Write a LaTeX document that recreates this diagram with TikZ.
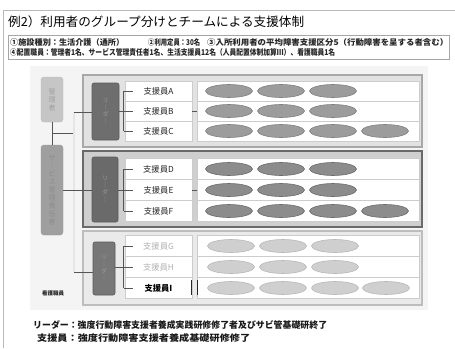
\documentclass[tikz,border=0pt]{standalone}
\usepackage{fontspec}
\setmainfont{Noto Sans CJK JP}
\usetikzlibrary{shapes.geometric}
\definecolor{frA}{HTML}{A8A8A8}
\definecolor{frB}{HTML}{6A6A6A}
\definecolor{frC}{HTML}{BDBDBD}
\definecolor{bgA}{HTML}{E2E2E2}
\definecolor{bgB}{HTML}{CFCFCF}
\definecolor{bgC}{HTML}{EAEAEA}
\definecolor{elA}{HTML}{9C9C9C}
\definecolor{elAd}{HTML}{808080}
\definecolor{elB}{HTML}{8C8C8C}
\definecolor{elBd}{HTML}{6C6C6C}
\definecolor{elC}{HTML}{CFCFCF}
\definecolor{elCd}{HTML}{B8B8B8}
\definecolor{lead}{HTML}{6E6E6E}
\definecolor{leadB}{HTML}{6A6A6A}
\definecolor{leadC}{HTML}{777777}
\definecolor{leadd}{HTML}{5A5A5A}
\definecolor{conn}{HTML}{555555}
\begin{document}
\begin{tikzpicture}[x=1pt,y=-1pt,
  lblcell/.style={draw=gray!40, fill=white, minimum width=67pt, minimum height=#1, inner sep=0pt,
    font=\fontsize{8.3}{9}\selectfont, text=black!85},
  elcell/.style={draw=gray!40, fill=white, minimum width=222pt, minimum height=#1, inner sep=0pt},
  elA/.style={ellipse, minimum width=47pt, minimum height=13pt, inner sep=0pt, fill=elA, draw=elAd, line width=0.6pt},
  elB/.style={ellipse, minimum width=47pt, minimum height=13pt, inner sep=0pt, fill=elB, draw=elBd, line width=0.6pt},
  elC/.style={ellipse, minimum width=47pt, minimum height=13pt, inner sep=0pt, fill=elC, draw=elCd, line width=0.6pt},
  leader/.style={rectangle, rounded corners=2pt, fill=lead, draw=leadd, line width=0.6pt, inner sep=0pt,
    align=center, text=gray!80, font=\fontsize{6}{7}\selectfont},
  cn/.style={draw=conn, line width=0.7pt},
  vtext/.style={align=center, font=\fontsize{7}{8}\selectfont}
]
\useasboundingbox (0,0) rectangle (455,348);
\fill[white] (0,0) rectangle (455,348);
% page frame
\draw[gray!55, line width=0.8pt] (3,348) -- (3,10) -- (455,10);
% light panel behind diagram
\fill[gray!9] (30,66) rectangle (428,310);

% title
\node[anchor=west, inner sep=0pt, font=\fontsize{12.5}{13}\selectfont, text=black] (title) at (8,22)
  {\resizebox{296pt}{\height}{例2）利用者のグループ分けとチームによる支援体制}};
% info box
\node[draw=gray!70, line width=0.6pt, minimum width=441pt, minimum height=24pt, inner sep=0pt] (info) at (228.5,47) {};
\node[anchor=west, inner sep=0pt, font=\bfseries\fontsize{8}{9}\selectfont, text=black!85] (i1) at (10,42.5)
  {\resizebox{114pt}{\height}{①施設種別：生活介護（通所）}};
\node[anchor=west, inner sep=0pt, font=\bfseries\fontsize{8}{9}\selectfont, text=black!85] (i2) at (148,42.5)
  {\resizebox{52pt}{\height}{②利用定員：30名}};
\node[anchor=west, inner sep=0pt, font=\bfseries\fontsize{8}{9}\selectfont, text=black!85] (i3) at (207,42.5)
  {\resizebox{241pt}{\height}{③入所利用者の平均障害支援区分5（行動障害を呈する者含む）}};
\node[anchor=west, inner sep=0pt, font=\bfseries\fontsize{8}{9}\selectfont, text=black!85] (i4) at (10,52.5)
  {\resizebox{325pt}{\height}{④配置職員：管理者1名、サービス管理責任者1名、生活支援員12名（人員配置体制加算Ⅲ）、看護職員1名}};

% group frames
\filldraw[fill=bgA, draw=frA, line width=1.6pt] (83,75) rectangle (422,147);
\filldraw[fill=bgB, draw=frB, line width=2.6pt] (83,151) rectangle (422,227);
\filldraw[fill=bgC, draw=frC, line width=1.4pt] (83,231) rectangle (422,305);

% left column boxes
\node[rectangle, rounded corners=3pt, fill=gray!45, draw=gray!55, minimum width=22pt, minimum height=45pt, inner sep=0pt,
  vtext, text=gray!75] (M) at (52,99.5) {管\\理\\者};
\node[rectangle, rounded corners=3pt, fill=gray!75, draw=gray!80, minimum width=22pt, minimum height=90pt, inner sep=0pt,
  vtext, text=gray!90] (S) at (52,190) {サ\\｜\\ビ\\ス\\管\\理\\責\\任\\者};
\node[font=\bfseries\fontsize{5.5}{6}\selectfont, text=black!85, inner sep=0pt] (nurse) at (53,293) {看護職員};

% group 1 rows
\node[lblcell=20pt] (lA) at (158.5,91) {支援員A};
\node[lblcell=20pt] (lB) at (158.5,111) {支援員B};
\node[lblcell=20pt] (lC) at (158.5,131) {支援員C};
\node[elcell=20pt] (eA) at (308,91) {};
\node[elcell=20pt] (eB) at (308,111) {};
\node[elcell=20pt] (eC) at (308,131) {};
\foreach \x [count=\i] in {229,281,333} {\node[elA] (a\i) at (\x,91) {}; \node[elA] (b\i) at (\x,111) {};}
\foreach \x [count=\i] in {229,281,333,385} {\node[elA] (c\i) at (\x,131) {};}
% group 2 rows
\node[lblcell=21pt] (lD) at (158.5,169) {支援員D};
\node[lblcell=21pt] (lE) at (158.5,190) {支援員E};
\node[lblcell=21pt] (lF) at (158.5,211) {支援員F};
\node[elcell=21pt] (eD) at (308,169) {};
\node[elcell=21pt] (eE) at (308,190) {};
\node[elcell=21pt] (eF) at (308,211) {};
\foreach \x [count=\i] in {229,281,333} {\node[elB] (d\i) at (\x,169) {}; \node[elB] (e\i) at (\x,190) {};}
\foreach \x [count=\i] in {229,281,333,385} {\node[elB] (f\i) at (\x,211) {};}
% group 3 rows
\node[lblcell=21pt, text=gray!60] (lG) at (158.5,246) {支援員G};
\node[lblcell=21pt, text=gray!60] (lH) at (158.5,267) {支援員H};
\node[lblcell=21pt, text=black, font=\bfseries\fontsize{8.3}{9}\selectfont] (lI) at (158.5,288) {支援員I};
\node[elcell=21pt] (eG) at (308,246) {};
\node[elcell=21pt] (eH) at (308,267) {};
\node[elcell=21pt] (eI) at (308,288) {};
\foreach \x [count=\i] in {231,283,335} {\node[elC] (g\i) at (\x,246) {}; \node[elC] (h\i) at (\x,267) {};}
\foreach \x [count=\i] in {231,283,335,386} {\node[elC] (j\i) at (\x,288) {};}
\draw[black!85, line width=1.1pt] (lI.north east) ++(-1,3) -- ++(0,15);
\draw[black!85, line width=1.1pt] (eI.north west) ++(1,3) -- ++(0,15);

% leaders
\node[leader, minimum width=27pt, minimum height=57pt] (L1) at (105.5,111.5) {リ\\｜\\ダ\\｜};
\node[leader, minimum width=26pt, minimum height=65pt, fill=leadB] (L2) at (105,189.5) {リ\\｜\\ダ\\｜};
\node[leader, minimum width=22pt, minimum height=53pt, fill=leadC] (L3) at (104,268.5) {リ\\｜\\ダ\\｜};

% brackets inside groups
\foreach \g/\a/\b/\c in {L1/lA/lB/lC, L2/lD/lE/lF, L3/lG/lH/lI} {
  \draw[cn] (\g.east |- \b.west) -- ([xshift=-1pt]\b.west);
  \draw[cn] ([xshift=-1pt]\a.west) -- ([xshift=-1pt]\c.west);
  \draw[cn] ([xshift=-1pt]\a.west) -- ([xshift=8pt]\a.west);
  \draw[cn] ([xshift=-1pt]\b.west) -- ([xshift=8pt]\b.west);
  \draw[cn] ([xshift=-1pt]\c.west) -- ([xshift=8pt]\c.west);
}
\draw[cn] (lB.east) -- (eB.west);
\draw[cn] (lE.east) -- (eE.west);

% left connectors
\coordinate (mtop) at (74,112);
\coordinate (mbot) at (74,272);
\coordinate (mj) at (52,133);
\draw[cn] (M.south) -- (S.north);
\draw[cn] (mj) -- (mj -| mtop);
\draw[draw=conn, line width=0.5pt, double=gray!20, double distance=1.4pt] (mtop) -- (mbot);
\draw[cn] (mtop) -- (mtop -| L1.west);
\draw[cn] (S.east) -- (S.east -| L2.west);
\draw[cn] (mbot) -- (mbot -| L3.west);

% bottom notes
\node[anchor=west, inner sep=0pt, font=\bfseries\fontsize{9}{10}\selectfont, text=black!90] (n1) at (33,325)
  {\resizebox{294pt}{\height}{リーダー：強度行動障害支援者養成実践研修修了者及びサビ管基礎研終了}};
\node[anchor=west, inner sep=0pt, font=\bfseries\fontsize{9}{10}\selectfont, text=black!90] (n2) at (37,338)
  {\resizebox{213pt}{\height}{支援員：強度行動障害支援者養成基礎研修修了}};
\end{tikzpicture}
\end{document}
